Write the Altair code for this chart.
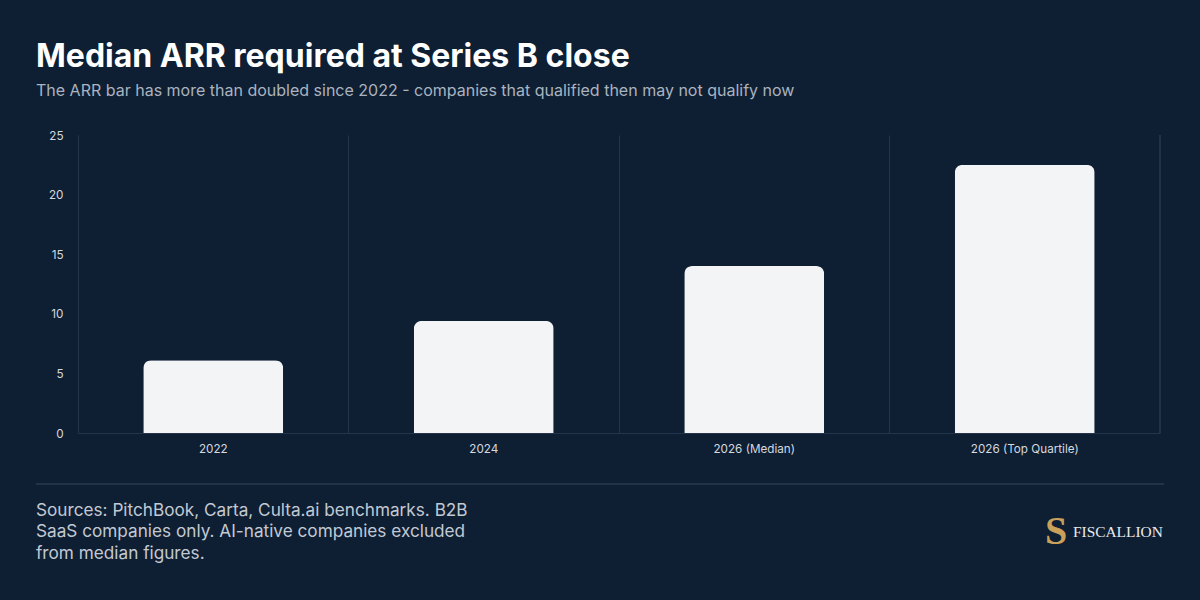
import altair as alt
import pandas as pd

categories = ["2022", "2024", "2026 (Median)", "2026 (Top Quartile)"]
arr_values = [6.1, 9.4, 14.0, 22.5]
y_ticks = [0, 5, 10, 15, 20, 25]

title_text = "Median ARR required at Series B close"
subtitle_text = "The ARR bar has more than doubled since 2022 - companies that qualified then may not qualify now"
source_lines = [
    "Sources: PitchBook, Carta, Culta.ai benchmarks. B2B",
    "SaaS companies only. AI-native companies excluded",
    "from median figures.",
]
brand_text = "FISCALLION"

BG = "#0e1f34"
GRID = "#23344b"
W, H = 1082, 298

df = pd.DataFrame({"category": categories, "value": arr_values})

x_enc = alt.X(
    "category:N",
    sort=categories,
    scale=alt.Scale(paddingInner=0, paddingOuter=0),
    axis=alt.Axis(
        title=None, labelAngle=0, ticks=False, domain=True, domainColor=GRID,
        grid=True, gridColor=GRID, bandPosition=0, labelColor="#d5d9df",
        labelFontSize=11.7, labelPadding=10, labelFont="Inter",
    ),
)
y_enc = alt.Y(
    "value:Q",
    scale=alt.Scale(domain=[0, 25], nice=False),
    axis=alt.Axis(
        title=None, values=y_ticks, ticks=False, domain=True, domainColor=GRID,
        grid=False, labelColor="#d5d9df", labelFontSize=11.7, labelPadding=15,
        labelFont="Inter",
    ),
)

bars = alt.Chart(df).mark_bar(
    color="#f2f4f6", size=140, cornerRadiusTopLeft=8, cornerRadiusTopRight=8,
).encode(x=x_enc, y=y_enc)

right_rule = alt.Chart(df).mark_rule(color=GRID, strokeWidth=1).encode(
    x=alt.value(W), y=alt.value(0), y2=alt.value(H)
)

def txt(text, x, y, size, color, weight="normal", font="Inter", align="left"):
    return alt.Chart(pd.DataFrame({"t": [text]})).mark_text(
        align=align, baseline="alphabetic", fontSize=size, color=color,
        fontWeight=weight, font=font,
    ).encode(text="t:N", x=alt.value(x), y=alt.value(y))

layers = [bars, right_rule]
layers.append(txt(title_text, -42, -68, 32, "#ffffff", weight="bold"))
layers.append(txt(subtitle_text, -42, -39, 16, "#aab3bf"))

sep = alt.Chart(df).mark_rule(color="#22334a", strokeWidth=1.5).encode(
    x=alt.value(-42), x2=alt.value(1086), y=alt.value(349)
)
layers.append(sep)
for i, line in enumerate(source_lines):
    layers.append(txt(line, -42, 381 + i * 21.3, 17.2, "#c3c9d2"))

layers.append(txt("S", 978, 409, 40, "#c9a15a", weight="bold", font="Liberation Serif", align="center"))
layers.append(txt(brand_text, 995, 401.5, 15.4, "#e9ebee", font="Liberation Serif"))

chart = alt.layer(*layers).properties(
    width=W, height=H,
    background=BG,
    padding={"left": 78, "top": 135, "right": 40, "bottom": 167},
    autosize=alt.AutoSizeParams(type="none"),
).configure_view(stroke=None)

chart.save("out.html", embed_options={"renderer": "svg", "actions": False})
